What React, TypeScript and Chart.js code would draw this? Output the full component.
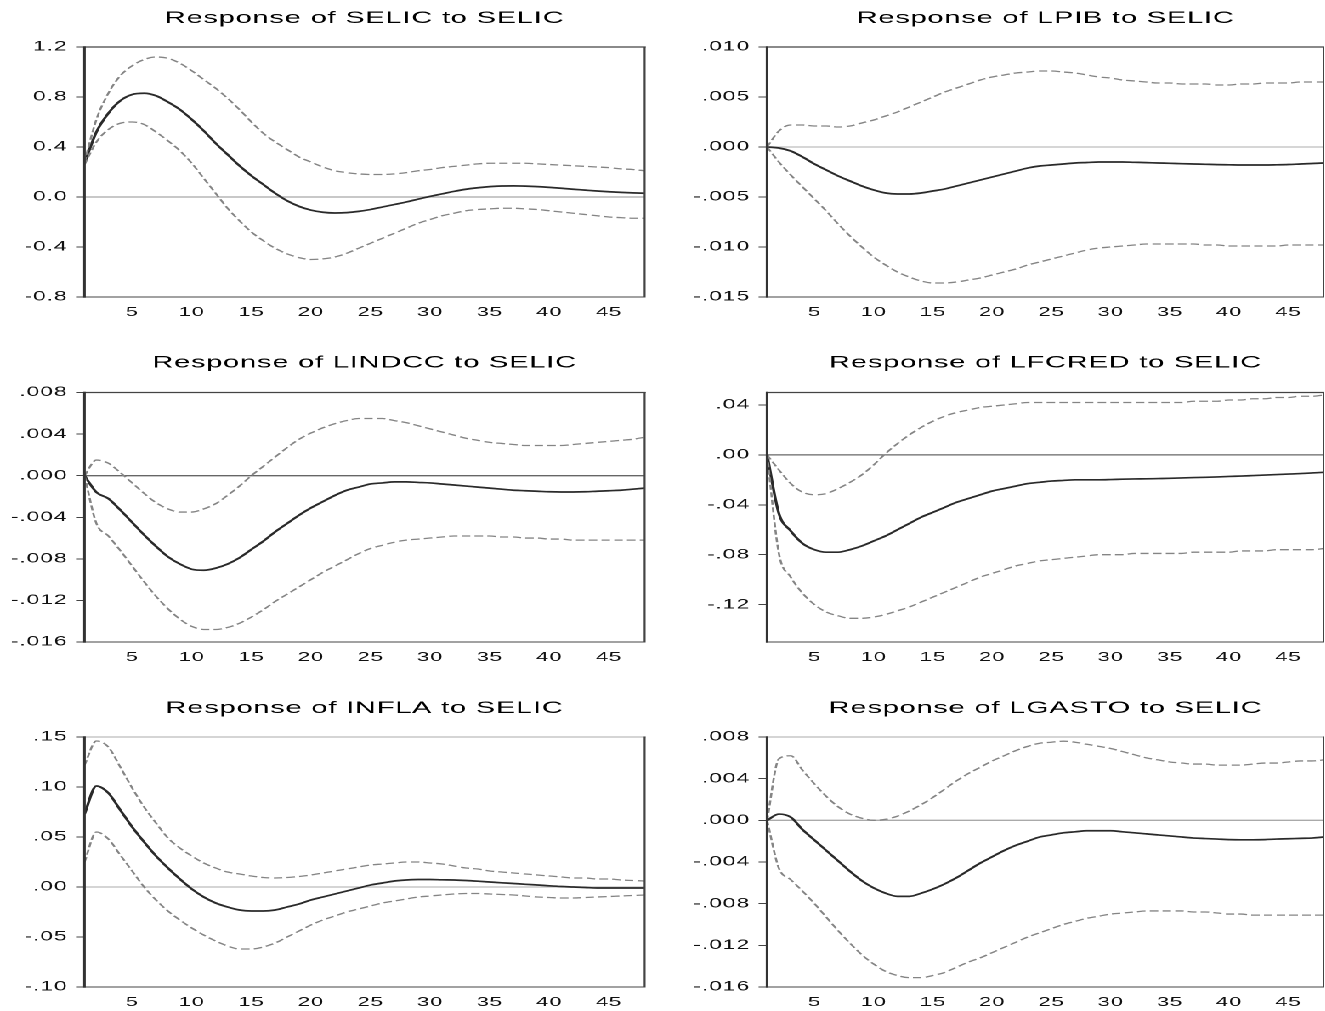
import React, { useEffect, useRef } from "react";
import { Chart, registerables } from "chart.js";

Chart.register(...registerables);

// ---------------- data ----------------
const PERIODS = [1, 2, 3, 4, 5, 6, 7, 8, 9, 10, 11, 12, 13, 14, 15, 16, 17, 18, 19, 20, 21, 22, 23, 24, 25, 26, 27, 28, 29, 30, 31, 32, 33, 34, 35, 36, 37, 38, 39, 40, 41, 42, 43, 44, 45, 46, 47, 48];
const X_TICKS = [5, 10, 15, 20, 25, 30, 35, 40, 45];

const SELIC_TITLE = "Response of SELIC to SELIC";
const SELIC_SOLID = [0.27, 0.52, 0.67, 0.77, 0.82, 0.83, 0.81, 0.76, 0.70, 0.62, 0.53, 0.43, 0.34, 0.25, 0.17, 0.10, 0.03, -0.03, -0.075, -0.105, -0.122, -0.128, -0.125, -0.115, -0.10, -0.08, -0.06, -0.04, -0.017, 0.005, 0.025, 0.045, 0.062, 0.074, 0.083, 0.088, 0.089, 0.087, 0.083, 0.077, 0.07, 0.062, 0.055, 0.048, 0.042, 0.037, 0.033, 0.03];
const SELIC_UPPER = [0.28, 0.62, 0.83, 0.97, 1.05, 1.10, 1.12, 1.11, 1.07, 1.01, 0.94, 0.87, 0.79, 0.70, 0.60, 0.51, 0.44, 0.38, 0.32, 0.28, 0.24, 0.21, 0.195, 0.185, 0.18, 0.18, 0.185, 0.195, 0.21, 0.22, 0.235, 0.245, 0.255, 0.265, 0.27, 0.27, 0.27, 0.27, 0.265, 0.26, 0.255, 0.25, 0.245, 0.24, 0.235, 0.225, 0.22, 0.21];
const SELIC_LOWER = [0.26, 0.44, 0.54, 0.59, 0.60, 0.58, 0.52, 0.45, 0.37, 0.27, 0.15, 0.03, -0.09, -0.19, -0.28, -0.35, -0.41, -0.455, -0.485, -0.50, -0.495, -0.48, -0.45, -0.41, -0.37, -0.33, -0.29, -0.25, -0.21, -0.18, -0.15, -0.13, -0.11, -0.10, -0.095, -0.09, -0.09, -0.095, -0.10, -0.11, -0.12, -0.13, -0.14, -0.15, -0.16, -0.165, -0.17, -0.17];
const SELIC_TICKS = [1.2, 0.8, 0.4, 0, -0.4, -0.8];
const SELIC_TICK_LABELS = ["1.2", "0.8", "0.4", "0.0", "-0.4", "-0.8"];

const LPIB_TITLE = "Response of LPIB to SELIC";
const LPIB_SOLID = [0, -0.0001, -0.0004, -0.0010, -0.0017, -0.0023, -0.0029, -0.0034, -0.0039, -0.0043, -0.0046, -0.0047, -0.0047, -0.0046, -0.0044, -0.0042, -0.0039, -0.0036, -0.0033, -0.0030, -0.0027, -0.0024, -0.0021, -0.0019, -0.0018, -0.0017, -0.0016, -0.00155, -0.0015, -0.0015, -0.0015, -0.00153, -0.00156, -0.0016, -0.00163, -0.00167, -0.0017, -0.00173, -0.00176, -0.00178, -0.0018, -0.0018, -0.0018, -0.00178, -0.00175, -0.0017, -0.00165, -0.0016];
const LPIB_UPPER = [0, 0.0016, 0.0022, 0.0022, 0.0021, 0.0021, 0.0020, 0.0021, 0.0024, 0.0027, 0.0031, 0.0035, 0.0040, 0.0045, 0.0050, 0.0055, 0.0059, 0.0063, 0.0067, 0.0070, 0.0072, 0.0074, 0.0075, 0.0076, 0.0076, 0.0075, 0.0074, 0.0072, 0.0070, 0.0069, 0.0067, 0.0066, 0.0065, 0.0064, 0.0064, 0.0063, 0.0063, 0.0063, 0.0062, 0.0062, 0.0063, 0.0063, 0.0064, 0.0064, 0.0064, 0.0065, 0.0065, 0.0065];
const LPIB_LOWER = [0, -0.0015, -0.0028, -0.0040, -0.0052, -0.0064, -0.0077, -0.0089, -0.0100, -0.0110, -0.0118, -0.0125, -0.0130, -0.0134, -0.0136, -0.0136, -0.0135, -0.0133, -0.0131, -0.0128, -0.0125, -0.0122, -0.0118, -0.0115, -0.0112, -0.0109, -0.0106, -0.0103, -0.0101, -0.0100, -0.0099, -0.0098, -0.0097, -0.0097, -0.0097, -0.0097, -0.0097, -0.0098, -0.0098, -0.0099, -0.0099, -0.0099, -0.0099, -0.0099, -0.0098, -0.0098, -0.0098, -0.0098];
const LPIB_TICKS = [0.010, 0.005, 0, -0.005, -0.010, -0.015];
const LPIB_TICK_LABELS = [".010", ".005", ".000", "-.005", "-.010", "-.015"];

const LINDCC_TITLE = "Response of LINDCC to SELIC";
const LINDCC_SOLID = [0, -0.0016, -0.0022, -0.0033, -0.0045, -0.0057, -0.0068, -0.0078, -0.0085, -0.0090, -0.0091, -0.0089, -0.0085, -0.0079, -0.0071, -0.0063, -0.0054, -0.0046, -0.0038, -0.0031, -0.0025, -0.0019, -0.0014, -0.0011, -0.0008, -0.0007, -0.0006, -0.0006, -0.00065, -0.0007, -0.0008, -0.0009, -0.0010, -0.0011, -0.0012, -0.0013, -0.0014, -0.00145, -0.0015, -0.00155, -0.00157, -0.00157, -0.00155, -0.0015, -0.00145, -0.0014, -0.0013, -0.0012];
const LINDCC_UPPER = [0, 0.0015, 0.0012, 0.0003, -0.0007, -0.0017, -0.0026, -0.0032, -0.0035, -0.0035, -0.0032, -0.0027, -0.0019, -0.0010, 0.0000, 0.0009, 0.0018, 0.0027, 0.0035, 0.0041, 0.0046, 0.0050, 0.0053, 0.0055, 0.0055, 0.0055, 0.0053, 0.0051, 0.0048, 0.0045, 0.0042, 0.0039, 0.0036, 0.0034, 0.0032, 0.0031, 0.0030, 0.0029, 0.0029, 0.0029, 0.0029, 0.0030, 0.0031, 0.0032, 0.0033, 0.0034, 0.0035, 0.0037];
const LINDCC_LOWER = [0, -0.0046, -0.0058, -0.0072, -0.0087, -0.0102, -0.0116, -0.0128, -0.0138, -0.0145, -0.0148, -0.0148, -0.0146, -0.0142, -0.0136, -0.0129, -0.0121, -0.0114, -0.0107, -0.0100, -0.0093, -0.0087, -0.0081, -0.0075, -0.0070, -0.0067, -0.0064, -0.0062, -0.0061, -0.0060, -0.0059, -0.0058, -0.0058, -0.0058, -0.0058, -0.0059, -0.0059, -0.0060, -0.0060, -0.0061, -0.0061, -0.0062, -0.0062, -0.0062, -0.0062, -0.0062, -0.0062, -0.0062];
const LINDCC_TICKS = [0.008, 0.004, 0, -0.004, -0.008, -0.012, -0.016];
const LINDCC_TICK_LABELS = [".008", ".004", ".000", "-.004", "-.008", "-.012", "-.016"];

const LFCRED_TITLE = "Response of LFCRED to SELIC";
const LFCRED_SOLID = [0, -0.047, -0.061, -0.071, -0.076, -0.078, -0.078, -0.076, -0.073, -0.069, -0.065, -0.060, -0.055, -0.050, -0.046, -0.042, -0.038, -0.035, -0.032, -0.029, -0.027, -0.025, -0.023, -0.022, -0.021, -0.0205, -0.020, -0.020, -0.020, -0.0198, -0.0195, -0.0193, -0.0192, -0.019, -0.0188, -0.0185, -0.0182, -0.018, -0.0177, -0.0173, -0.017, -0.0166, -0.0162, -0.0158, -0.0154, -0.015, -0.0145, -0.014];
const LFCRED_UPPER = [0, -0.012, -0.023, -0.030, -0.032, -0.031, -0.027, -0.022, -0.016, -0.008, 0.001, 0.009, 0.016, 0.022, 0.027, 0.031, 0.034, 0.036, 0.038, 0.039, 0.040, 0.041, 0.042, 0.042, 0.042, 0.042, 0.042, 0.042, 0.042, 0.042, 0.042, 0.042, 0.042, 0.042, 0.042, 0.042, 0.043, 0.043, 0.043, 0.044, 0.044, 0.045, 0.045, 0.046, 0.046, 0.047, 0.047, 0.048];
const LFCRED_LOWER = [0, -0.079, -0.098, -0.111, -0.120, -0.126, -0.129, -0.131, -0.131, -0.130, -0.128, -0.125, -0.122, -0.118, -0.114, -0.110, -0.106, -0.102, -0.098, -0.095, -0.092, -0.089, -0.087, -0.085, -0.084, -0.083, -0.082, -0.081, -0.080, -0.080, -0.080, -0.079, -0.079, -0.079, -0.079, -0.079, -0.078, -0.078, -0.078, -0.078, -0.077, -0.077, -0.077, -0.076, -0.076, -0.076, -0.076, -0.075];
const LFCRED_TICKS = [0.04, 0, -0.04, -0.08, -0.12];
const LFCRED_TICK_LABELS = [".04", ".00", "-.04", "-.08", "-.12"];

const INFLA_TITLE = "Response of INFLA to SELIC";
const INFLA_SOLID = [0.073, 0.101, 0.094, 0.077, 0.060, 0.045, 0.031, 0.019, 0.008, -0.002, -0.010, -0.016, -0.020, -0.023, -0.024, -0.024, -0.023, -0.020, -0.017, -0.013, -0.010, -0.007, -0.004, -0.001, 0.002, 0.004, 0.006, 0.007, 0.0075, 0.0075, 0.0072, 0.007, 0.0065, 0.0058, 0.005, 0.0042, 0.0035, 0.0027, 0.002, 0.0012, 0.0005, 0.0, -0.0005, -0.001, -0.001, -0.001, -0.001, -0.001];
const INFLA_UPPER = [0.122, 0.146, 0.140, 0.120, 0.099, 0.080, 0.064, 0.049, 0.039, 0.031, 0.024, 0.019, 0.015, 0.013, 0.011, 0.0095, 0.009, 0.0095, 0.0105, 0.012, 0.014, 0.016, 0.018, 0.020, 0.022, 0.023, 0.024, 0.025, 0.025, 0.024, 0.023, 0.021, 0.019, 0.018, 0.016, 0.015, 0.014, 0.013, 0.012, 0.011, 0.010, 0.009, 0.009, 0.008, 0.008, 0.007, 0.0065, 0.006];
const INFLA_LOWER = [0.025, 0.055, 0.048, 0.032, 0.016, 0.0, -0.013, -0.024, -0.033, -0.041, -0.048, -0.054, -0.059, -0.062, -0.062, -0.060, -0.056, -0.050, -0.044, -0.038, -0.033, -0.029, -0.025, -0.022, -0.019, -0.016, -0.014, -0.012, -0.010, -0.009, -0.008, -0.007, -0.0065, -0.0065, -0.007, -0.0075, -0.008, -0.009, -0.010, -0.0105, -0.011, -0.011, -0.0105, -0.010, -0.0095, -0.009, -0.0085, -0.008];
const INFLA_TICKS = [0.15, 0.10, 0.05, 0, -0.05, -0.10];
const INFLA_TICK_LABELS = [".15", ".10", ".05", ".00", "-.05", "-.10"];

const LGASTO_TITLE = "Response of LGASTO to SELIC";
const LGASTO_SOLID = [0, 0.0006, 0.0003, -0.0009, -0.0019, -0.0029, -0.0039, -0.0049, -0.0058, -0.0065, -0.0070, -0.0073, -0.0073, -0.0070, -0.0066, -0.0061, -0.0055, -0.0048, -0.0041, -0.0035, -0.0029, -0.0024, -0.0020, -0.0016, -0.0014, -0.0012, -0.0011, -0.0010, -0.0010, -0.0010, -0.0011, -0.0012, -0.0013, -0.0014, -0.0015, -0.0016, -0.0017, -0.00175, -0.0018, -0.00185, -0.00187, -0.00187, -0.00185, -0.0018, -0.00177, -0.00173, -0.0017, -0.0016];
const LGASTO_UPPER = [0, 0.0059, 0.0062, 0.0048, 0.0035, 0.0023, 0.0013, 0.0006, 0.0002, 0.0000, 0.0001, 0.0004, 0.0009, 0.0015, 0.0022, 0.0030, 0.0038, 0.0045, 0.0051, 0.0057, 0.0062, 0.0067, 0.0071, 0.0074, 0.0075, 0.0076, 0.0075, 0.0073, 0.0071, 0.0069, 0.0066, 0.0063, 0.0060, 0.0058, 0.0056, 0.0055, 0.0054, 0.0054, 0.0053, 0.0053, 0.0053, 0.0054, 0.0055, 0.0055, 0.0056, 0.0057, 0.0057, 0.0058];
const LGASTO_LOWER = [0, -0.0046, -0.0057, -0.0068, -0.0080, -0.0093, -0.0106, -0.0118, -0.0129, -0.0138, -0.0145, -0.0149, -0.0151, -0.0151, -0.0149, -0.0146, -0.0141, -0.0136, -0.0132, -0.0127, -0.0122, -0.0117, -0.0112, -0.0108, -0.0104, -0.0100, -0.0097, -0.0094, -0.0092, -0.0090, -0.0089, -0.0088, -0.0087, -0.0087, -0.0087, -0.0087, -0.0088, -0.0088, -0.0089, -0.0090, -0.0090, -0.0091, -0.0091, -0.0091, -0.0091, -0.0091, -0.0091, -0.0091];
const LGASTO_TICKS = [0.008, 0.004, 0, -0.004, -0.008, -0.012, -0.016];
const LGASTO_TICK_LABELS = [".008", ".004", ".000", "-.004", "-.008", "-.012", "-.016"];

// ---------------- layout / style ----------------
const K = 1.7; // horizontal stretch of the whole figure
const FONT = "'Liberation Sans', Arial, sans-serif";

const LEFT_COL = { left: 0, width: 392, yAxisWidth: 49.7, padRight: 12.8 };
const RIGHT_COL = { left: 392, width: 387, yAxisWidth: 59.2, padRight: 0.2 };
const ROW1 = { top: 0, height: 340, xAxisHeight: 43, titleTop: 8.1, titleBottom: 18.5 };
const ROW2 = { top: 340, height: 350, xAxisHeight: 48, titleTop: 12.5, titleBottom: 19.6 };
const ROW3 = { top: 690, height: 321, xAxisHeight: 24, titleTop: 8.1, titleBottom: 18.5 };

type Panel = {
  title: string; solid: number[]; upper: number[]; lower: number[];
  min: number; max: number; ticks: number[]; labels: string[];
  zeroColor: string; zeroWidth: number; topColor: string;
  col: typeof LEFT_COL; row: typeof ROW1;
};

const PANELS: Panel[] = [
  { title: SELIC_TITLE, solid: SELIC_SOLID, upper: SELIC_UPPER, lower: SELIC_LOWER, min: -0.8, max: 1.2, ticks: SELIC_TICKS, labels: SELIC_TICK_LABELS, zeroColor: "#c8c8c8", zeroWidth: 2, topColor: "#444", col: LEFT_COL, row: ROW1 },
  { title: LPIB_TITLE, solid: LPIB_SOLID, upper: LPIB_UPPER, lower: LPIB_LOWER, min: -0.015, max: 0.010, ticks: LPIB_TICKS, labels: LPIB_TICK_LABELS, zeroColor: "#c8c8c8", zeroWidth: 1.6, topColor: "#444", col: RIGHT_COL, row: ROW1 },
  { title: LINDCC_TITLE, solid: LINDCC_SOLID, upper: LINDCC_UPPER, lower: LINDCC_LOWER, min: -0.016, max: 0.008, ticks: LINDCC_TICKS, labels: LINDCC_TICK_LABELS, zeroColor: "#666", zeroWidth: 1.3, topColor: "#444", col: LEFT_COL, row: ROW2 },
  { title: LFCRED_TITLE, solid: LFCRED_SOLID, upper: LFCRED_UPPER, lower: LFCRED_LOWER, min: -0.15, max: 0.05, ticks: LFCRED_TICKS, labels: LFCRED_TICK_LABELS, zeroColor: "#666", zeroWidth: 1.3, topColor: "#444", col: RIGHT_COL, row: ROW2 },
  { title: INFLA_TITLE, solid: INFLA_SOLID, upper: INFLA_UPPER, lower: INFLA_LOWER, min: -0.10, max: 0.15, ticks: INFLA_TICKS, labels: INFLA_TICK_LABELS, zeroColor: "#bbb", zeroWidth: 1.3, topColor: "#bbb", col: LEFT_COL, row: ROW3 },
  { title: LGASTO_TITLE, solid: LGASTO_SOLID, upper: LGASTO_UPPER, lower: LGASTO_LOWER, min: -0.016, max: 0.008, ticks: LGASTO_TICKS, labels: LGASTO_TICK_LABELS, zeroColor: "#aaa", zeroWidth: 1.3, topColor: "#bbb", col: RIGHT_COL, row: ROW3 },
];

const framePlugin = {
  id: "frame",
  beforeDraw(chart: any) {
    const c: any = chart.ctx;
    c.letterSpacing = "0.5px";
    c.wordSpacing = "0px";
  },
  beforeDatasetsDraw(chart: any, _args: any, opts: any) {
    const { ctx, chartArea: a, scales } = chart;
    const y0 = scales.y.getPixelForValue(0);
    ctx.save();
    ctx.strokeStyle = opts.zeroColor;
    ctx.lineWidth = opts.zeroWidth;
    ctx.beginPath();
    ctx.moveTo(a.left, y0);
    ctx.lineTo(a.right, y0);
    ctx.stroke();
    ctx.restore();
  },
  afterDatasetsDraw(chart: any, _args: any, opts: any) {
    const { ctx, chartArea: a } = chart;
    ctx.save();
    ctx.lineCap = "square";
    ctx.strokeStyle = opts.topColor;
    ctx.lineWidth = 1.2;
    ctx.beginPath(); ctx.moveTo(a.left, a.top); ctx.lineTo(a.right, a.top); ctx.stroke();
    ctx.strokeStyle = "#444";
    ctx.lineWidth = 1.1;
    ctx.beginPath(); ctx.moveTo(a.right, a.top); ctx.lineTo(a.right, a.bottom); ctx.lineTo(a.left, a.bottom); ctx.stroke();
    ctx.strokeStyle = "#333";
    ctx.lineWidth = 1.5;
    ctx.beginPath(); ctx.moveTo(a.left, a.top); ctx.lineTo(a.left, a.bottom); ctx.stroke();
    ctx.restore();
  },
};

function buildConfig(p: Panel): any {
  const pts = (vals: number[]) => PERIODS.map((x, i) => ({ x, y: vals[i] }));
  const dashed = (vals: number[]) => ({
    data: pts(vals), borderColor: "#858585", borderWidth: 1.3, borderDash: [5, 2.5],
    pointRadius: 0, cubicInterpolationMode: "monotone", fill: false,
  });
  return {
    type: "line",
    data: {
      datasets: [
        dashed(p.upper),
        dashed(p.lower),
        { data: pts(p.solid), borderColor: "#2a2a2a", borderWidth: 1.7, pointRadius: 0, cubicInterpolationMode: "monotone", fill: false },
      ],
    },
    options: {
      animation: false,
      responsive: false,
      devicePixelRatio: 2,
      events: [],
      layout: { padding: { left: 0, right: p.col.padRight, top: 0, bottom: 0 } },
      plugins: {
        legend: { display: false },
        tooltip: { enabled: false },
        title: {
          display: true, text: p.title, fullSize: false, color: "#000",
          font: { family: FONT, size: 17, weight: "normal", lineHeight: 1.2 },
          padding: { top: p.row.titleTop, bottom: p.row.titleBottom },
        },
        frame: { zeroColor: p.zeroColor, zeroWidth: p.zeroWidth, topColor: p.topColor },
      },
      scales: {
        x: {
          type: "linear", min: 1, max: 48,
          afterBuildTicks: (s: any) => { s.ticks = X_TICKS.map((v) => ({ value: v })); },
          afterFit: (s: any) => { s.height = p.row.xAxisHeight; },
          grid: { display: false, drawTicks: false },
          border: { display: false },
          ticks: { padding: 7.5, color: "#111", font: { family: FONT, size: 13 }, maxRotation: 0, autoSkip: false, callback: (v: any) => String(v) },
        },
        y: {
          type: "linear", min: p.min, max: p.max,
          afterBuildTicks: (s: any) => { s.ticks = p.ticks.map((v) => ({ value: v })); },
          afterFit: (s: any) => { s.width = p.col.yAxisWidth; },
          grid: { display: true, drawOnChartArea: false, drawTicks: true, tickLength: 5, tickColor: "#444", lineWidth: 1 },
          border: { display: false },
          ticks: { padding: 5, color: "#111", font: { family: FONT, size: 13.5 }, autoSkip: false, callback: (_v: any, i: number) => p.labels[i] },
        },
      },
    },
    plugins: [framePlugin],
  };
}

function PanelChart({ panel }: { panel: Panel }) {
  const ref = useRef<HTMLCanvasElement>(null);
  useEffect(() => {
    const chart = new Chart(ref.current as HTMLCanvasElement, buildConfig(panel));
    return () => chart.destroy();
  }, [panel]);
  const w = panel.col.width;
  const h = panel.row.height;
  return (
    <canvas
      ref={ref}
      width={w}
      height={h}
      style={{ position: "absolute", left: panel.col.left, top: panel.row.top, width: w, height: h }}
    />
  );
}

export default function App() {
  useEffect(() => {
    document.body.style.overflow = "hidden";
    document.body.style.background = "#ffffff";
  }, []);
  return (
    <div
      style={{
        position: "absolute", left: 0, top: 0, width: 779, height: 1011,
        transform: `scaleX(${K})`, transformOrigin: "0 0", background: "#fff",
      }}
    >
      {PANELS.map((p) => (
        <PanelChart key={p.title} panel={p} />
      ))}
    </div>
  );
}
